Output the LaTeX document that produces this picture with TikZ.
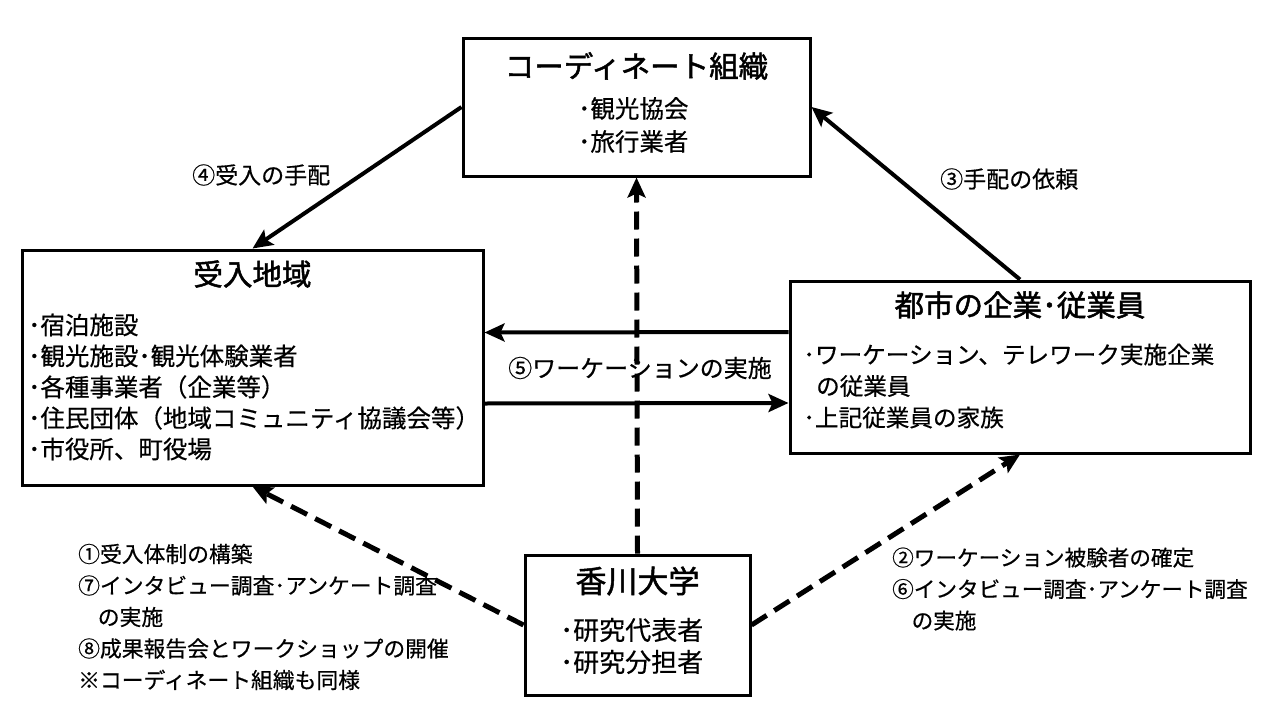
\documentclass[tikz,border=0pt]{standalone}
\usepackage{fontspec}
\setmainfont{Noto Sans CJK JP}
\newfontfamily\ttlfont[FakeBold=1.6]{Noto Sans CJK JP}
\newfontfamily\itmfont[FakeBold=0.5]{Noto Sans CJK JP}
\usetikzlibrary{arrows.meta}
\begin{document}
\begin{tikzpicture}[x=1pt,y=-1pt,
  box/.style={draw,line width=3pt,rectangle,inner sep=0pt},
  ttl/.style={font=\ttlfont\fontsize{29.5}{32}\selectfont,inner sep=0pt},
  itm/.style={font=\itmfont\fontsize{24.5}{31}\selectfont,inner sep=0pt,anchor=west,align=left},
  lbl/.style={font=\itmfont\fontsize{23}{30}\selectfont,inner sep=0pt,anchor=west,align=left},
  solidarr/.style={line width=4pt,-{Stealth[length=20pt,width=18pt,inset=4pt]}},
  dasharr/.style={line width=5pt,dash pattern=on 18pt off 9pt,-{Stealth[length=20pt,width=18pt,inset=4pt]}}
]
\useasboundingbox (0,0) rectangle (1280,720);
\fill[white] (0,0) rectangle (1280,720);

% boxes
\node[box,minimum width=347pt,minimum height=138pt] (top) at (636.5,107) {};
\node[box,minimum width=461pt,minimum height=235pt] (left) at (252.5,367.5) {};
\node[box,minimum width=460pt,minimum height=172pt] (right) at (1020,367) {};
\node[box,minimum width=225pt,minimum height=140pt] (bot) at (637.5,625) {};

% texts in boxes
\node[ttl] (toptitle) at (636.5,66) {コーディネート組織};
\node[itm,font=\itmfont\fontsize{24.5}{33}\selectfont] (topitems) at (578,125) {･観光協会\\･旅行業者};

\node[ttl] (lefttitle) at (252.5,274) {受入地域};
\node[itm] (leftitems) at (28,387) {･宿泊施設\\･観光施設･観光体験業者\\･各種事業者（企業等）\\･住民団体（地域コミュニティ協議会等）\\･市役所、町役場};

\node[ttl] (righttitle) at (1020,305) {都市の企業･従業員};
\node[itm,font=\itmfont\fontsize{23.6}{31.5}\selectfont] (rightitems) at (803,386) {･ワーケーション、テレワーク実施企業\\\hspace*{0.55em}の従業員\\･上記従業員の家族};

\node[ttl,font=\ttlfont\fontsize{31}{34}\selectfont] (bottitle) at (637.5,581) {香川大学};
\node[itm,font=\itmfont\fontsize{26}{32}\selectfont] (botitems) at (560,646) {･研究代表者\\･研究分担者};

% labels
\node[lbl] (l4) at (192,175) {④受入の手配};
\node[lbl] (l3) at (940,179) {③手配の依頼};
\node[lbl,font=\itmfont\fontsize{24}{30}\selectfont] (l5) at (508,368) {⑤ワーケーションの実施};
\node[lbl,font=\itmfont\fontsize{21.8}{31.5}\selectfont] (lleft) at (78,617) {①受入体制の構築\\⑦インタビュー調査･アンケート調査\\\hspace*{0.9em}の実施\\⑧成果報告会とワークショップの開催\\※コーディネート組織も同様};
\node[lbl,font=\itmfont\fontsize{21.6}{31.5}\selectfont] (lright) at (892,589) {②ワーケーション被験者の確定\\⑥インタビュー調査･アンケート調査\\\hspace*{0.9em}の実施};

% connectors
\draw[solidarr] (top.west) -- (left.north);
\draw[solidarr] (right.north) -- (top.east);
\draw[solidarr] ([yshift=35pt]right.west) -- ([yshift=35pt]left.east);
\draw[solidarr] ([yshift=-36pt]left.east) -- ([yshift=-36pt]right.west);
\draw[dasharr] (bot.north) -- (top.south);
\draw[dasharr] (bot.west) -- (left.south);
\draw[dasharr] (bot.east) -- (right.south);
\end{tikzpicture}
\end{document}
